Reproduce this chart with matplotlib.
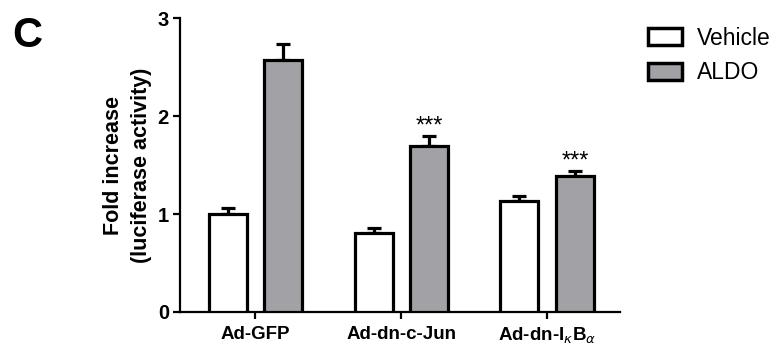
import matplotlib
matplotlib.use("Agg")
import matplotlib.pyplot as plt
from matplotlib.patches import Patch
import numpy as np

groups = ["Ad-GFP", "Ad-dn-c-Jun", r"Ad-dn-I$_{\kappa}$B$_{\alpha}$"]
vehicle = [1.00, 0.81, 1.13]
vehicle_err = [0.06, 0.05, 0.05]
aldo = [2.57, 1.69, 1.39]
aldo_err = [0.16, 0.11, 0.05]
sig = ["", "***", "***"]
series_names = ["Vehicle", "ALDO"]

plt.rcParams['font.family'] = ['Liberation Sans', 'DejaVu Sans']

fig = plt.figure(figsize=(7.78, 3.47), dpi=100)
ax = fig.add_axes([0.2314, 0.1009, 0.797 - 0.2314, 0.948 - 0.1009])

x = np.arange(len(groups))
w = 0.26
off = 0.19
gray = "#a2a2a6"
lw = 2.3

ax.bar(x - off, vehicle, w, color="white", edgecolor="black", linewidth=lw, zorder=3)
ax.bar(x + off, aldo, w, color=gray, edgecolor="black", linewidth=lw, zorder=3)
ax.errorbar(x - off, vehicle, yerr=[np.zeros(3), vehicle_err], fmt="none",
            ecolor="black", elinewidth=2.3, capsize=5, capthick=2.3, zorder=2)
ax.errorbar(x + off, aldo, yerr=[np.zeros(3), aldo_err], fmt="none",
            ecolor="black", elinewidth=2.3, capsize=5, capthick=2.3, zorder=2)

for xi, v, e, s in zip(x, aldo, aldo_err, sig):
    if s:
        ax.text(xi + off, v + e - 0.02, s, ha="center", va="bottom", fontsize=17)

ax.set_xlim(-0.517, 2.5)
ax.set_ylim(0, 3)
ax.set_yticks([0, 1, 2, 3])
ax.set_xticks(x)
ax.set_xticklabels(groups, fontweight="bold", fontsize=13.5)
for t in ax.get_yticklabels():
    t.set_fontweight("bold")
    t.set_fontsize(14.5)
ax.tick_params(axis="both", direction="out", length=5, width=1.6)
ax.tick_params(axis="x", pad=5)
ax.tick_params(axis="y", pad=3)
for sp in ["top", "right"]:
    ax.spines[sp].set_visible(False)
for sp in ["left", "bottom"]:
    ax.spines[sp].set_linewidth(1.6)

ax.set_ylabel("Fold increase\n(luciferase activity)", fontweight="bold", fontsize=15.5,
              labelpad=4, linespacing=1.42)

fig.text(0.016, 0.955, "C", fontsize=30, fontweight="bold", va="top", ha="left")

handles = [Patch(facecolor="white", edgecolor="black", linewidth=2.5),
           Patch(facecolor=gray, edgecolor="black", linewidth=2.5)]
fig.legend(handles, series_names, loc="upper left", bbox_to_anchor=(0.821, 0.949),
           frameon=False, fontsize=16.5, handlelength=1.5, handleheight=0.75,
           handletextpad=0.62, labelspacing=0.5, borderaxespad=0)

fig.savefig("out.png", dpi=100)
